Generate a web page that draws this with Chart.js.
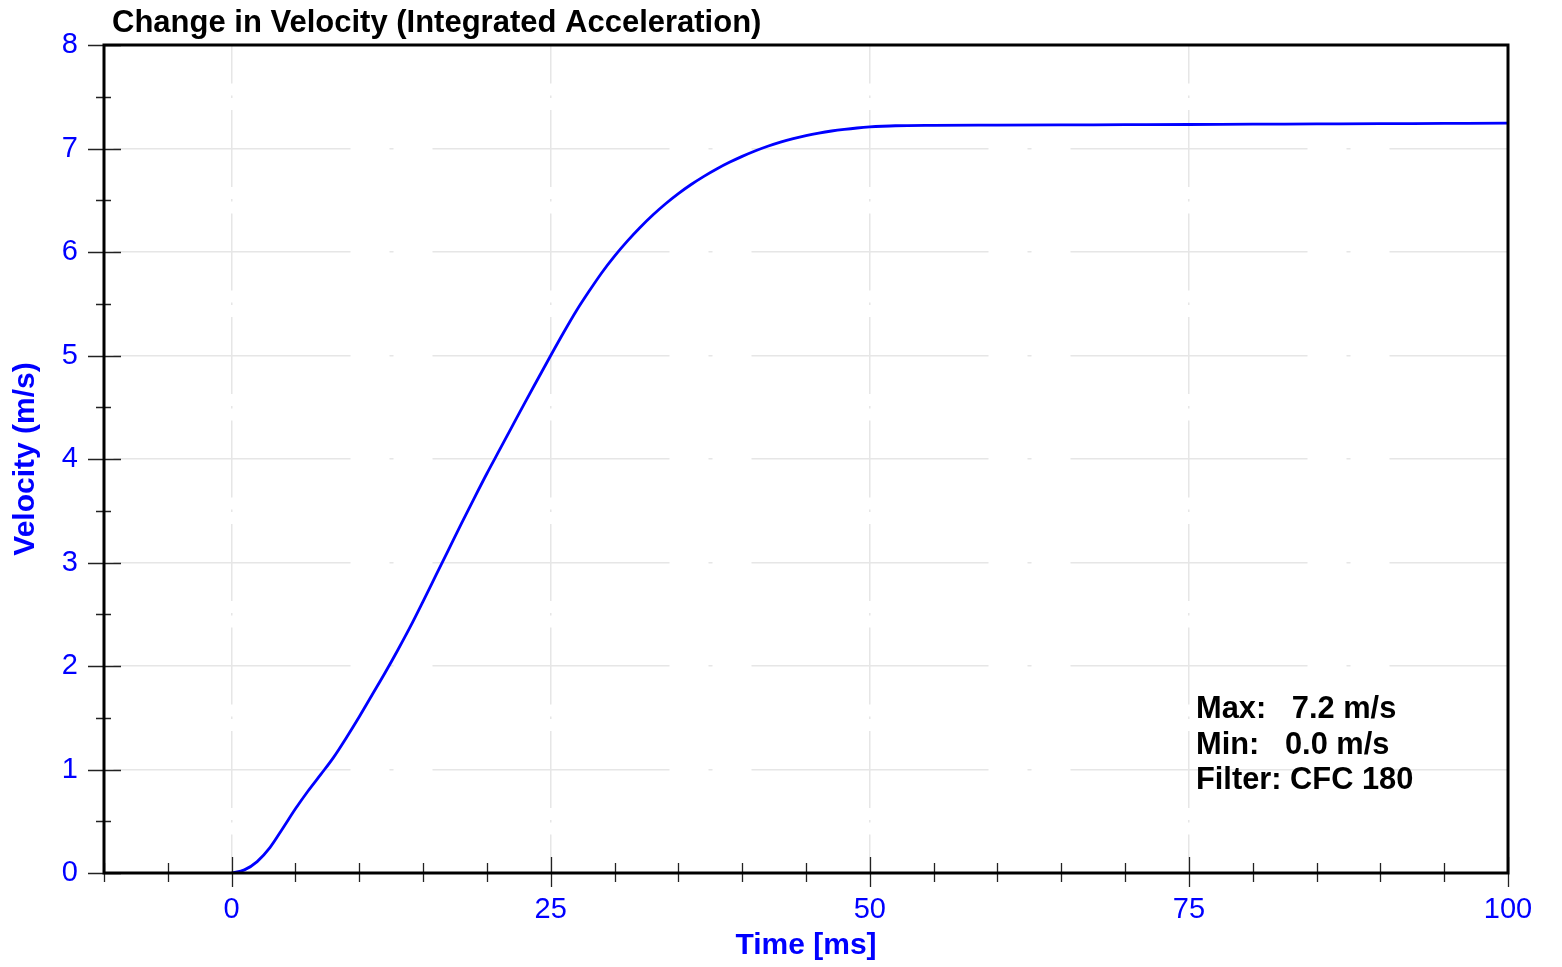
<!DOCTYPE html>
<html><head><meta charset="utf-8">
<script src="https://cdn.jsdelivr.net/npm/chart.js@4.4.1/dist/chart.umd.min.js"></script>
<style>html,body{margin:0;padding:0;background:#fff;overflow:hidden}</style>
</head><body>
<canvas id="c" width="1562" height="967" style="display:block;width:1562px;height:967px"></canvas>
<script>
const chartTitle = 'Change in Velocity (Integrated Acceleration)';
const xAxisTitle = 'Time [ms]';
const yAxisTitle = 'Velocity (m/s)';
const timeMs = [0,1,2,3,4,5,6,7,8,9,10,11,12,13,14,15,16,17,18,19,20,21,22,23,24,25,26,27,28,29,30,31,32,33,34,35,36,37,38,39,40,41,42,43,44,45,46,47,48,49,50,51,52,55,60,65,70,75,80,85,90,95,100];
const velocity = [0,0.03,0.11,0.245,0.43,0.62,0.795,0.955,1.12,1.31,1.51,1.72,1.93,2.15,2.38,2.625,2.875,3.125,3.375,3.62,3.86,4.09,4.32,4.55,4.775,5.0,5.22,5.43,5.62,5.80,5.96,6.105,6.237,6.357,6.466,6.564,6.652,6.731,6.802,6.866,6.924,6.976,7.022,7.062,7.096,7.125,7.149,7.169,7.185,7.198,7.208,7.215,7.22,7.224,7.226,7.228,7.23,7.232,7.235,7.237,7.24,7.242,7.245];
const xLabelTicks = [0,25,50,75,100];
const yLabelTicks = [0,1,2,3,4,5,6,7,8];
const statsLines = ['Max:   7.2 m/s','Min:   0.0 m/s','Filter: CFC 180'];

const FONT = "'Liberation Sans', Arial, Helvetica, sans-serif";
const BLUE = '#0000ff';
const GRID = '#e6e6e6';

const decorPlugin = {
  id: 'decor',
  afterDatasetsDraw(chart) {
    const {ctx, chartArea: a, scales: {x, y}} = chart;
    ctx.save();
    ctx.strokeStyle = '#222';
    ctx.lineWidth = 1.3;
    ctx.beginPath();
    x.ticks.forEach(t => {
      const px = Math.round(x.getPixelForValue(t.value)) + 0.5;
      const major = xLabelTicks.includes(t.value);
      ctx.moveTo(px, a.bottom - (major ? 16 : 10));
      ctx.lineTo(px, a.bottom + (major ? 14 : 9));
    });
    y.ticks.forEach(t => {
      const py = Math.round(y.getPixelForValue(t.value)) + 0.5;
      const major = yLabelTicks.includes(t.value);
      ctx.moveTo(a.left - (major ? 16 : 8), py);
      ctx.lineTo(a.left + (major ? 17 : 7), py);
    });
    ctx.stroke();
    ctx.strokeStyle = '#000';
    ctx.lineWidth = 3;
    ctx.strokeRect(a.left, a.top, a.right - a.left, a.bottom - a.top);
    ctx.restore();
  },
  afterDraw(chart) {
    const {ctx} = chart;
    ctx.save();
    ctx.fillStyle = '#000';
    ctx.font = 'bold 31px ' + FONT;
    ctx.textAlign = 'left';
    ctx.textBaseline = 'middle';
    ctx.fillText(chartTitle, 112, 23);
    ctx.font = 'bold 30.8px ' + FONT;
    statsLines.forEach((s, i) => ctx.fillText(s, 1196, 710 + i * 35.5));
    ctx.restore();
  }
};

new Chart(document.getElementById('c'), {
  type: 'line',
  data: {
    datasets: [{
      data: timeMs.map((t, i) => ({x: t, y: velocity[i]})),
      borderColor: BLUE,
      borderWidth: 2.8,
      pointRadius: 0,
      fill: false,
      cubicInterpolationMode: 'monotone'
    }]
  },
  options: {
    responsive: false,
    animation: false,
    devicePixelRatio: 1,
    layout: {padding: {top: 45, right: 54, bottom: 0, left: 0}},
    plugins: {legend: {display: false}, tooltip: {enabled: false}, title: {display: false}},
    scales: {
      x: {
        type: 'linear', min: -10, max: 100,
        afterFit: s => { s.height = 94; },
        ticks: {
          stepSize: 5, autoSkip: false, maxRotation: 0, color: BLUE, padding: 20,
          font: {family: FONT, size: 29},
          callback: v => xLabelTicks.includes(v) ? String(v) : ''
        },
        grid: {
          drawTicks: false, lineWidth: 1.5,
          color: c => (c.tick && xLabelTicks.includes(c.tick.value)) ? GRID : 'rgba(0,0,0,0)'
        },
        border: {display: false, dash: [77, 12, 2.5, 12], dashOffset: 38.5},
        title: {display: true, text: xAxisTitle, color: BLUE, font: {family: FONT, size: 30, weight: 'bold'}, padding: {top: 0, bottom: 3}}
      },
      y: {
        type: 'linear', min: 0, max: 8,
        afterFit: s => { s.width = 104; },
        ticks: {
          stepSize: 0.5, autoSkip: false, color: BLUE, padding: 26,
          font: {family: FONT, size: 29},
          callback: v => yLabelTicks.includes(v) ? String(v) : ''
        },
        grid: {
          drawTicks: false, lineWidth: 1.5,
          color: c => (c.tick && yLabelTicks.includes(c.tick.value)) ? GRID : 'rgba(0,0,0,0)'
        },
        border: {display: false, dash: [237, 39, 4, 39], dashOffset: 309.5},
        title: {display: true, text: yAxisTitle, color: BLUE, font: {family: FONT, size: 30, weight: 'bold'}, padding: {top: 8, bottom: 0}}
      }
    }
  },
  plugins: [decorPlugin]
});
</script>
</body></html>
